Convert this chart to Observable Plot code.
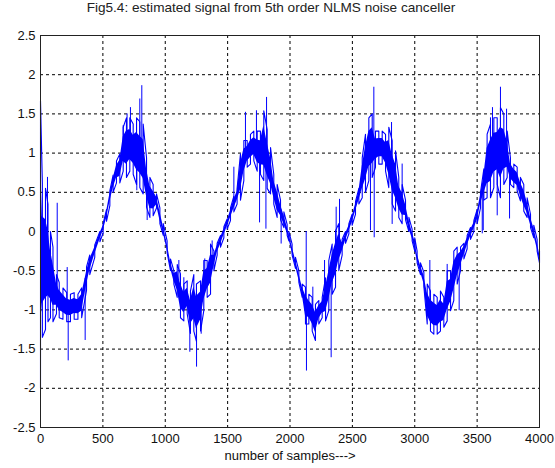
<!DOCTYPE html>
<html>
<head>
<meta charset="utf-8">
<script src="https://cdn.jsdelivr.net/npm/d3@7"></script>
<script src="https://cdn.jsdelivr.net/npm/@observablehq/plot@0.6"></script>
<style>
  body { margin: 0; background: #fff; }
  #title { width: 555px; box-sizing: border-box; padding: 0 13px 0 0; height: 28px; line-height: 34px;
           text-align: center; font: 13.6px "Liberation Sans", Arial, sans-serif; color: #222; }
  svg { display: block; }
</style>
</head>
<body>
<div id="title">Fig5.4: estimated signal from 5th order NLMS noise canceller</div>
<div id="chart"></div>
<script>
// Sample index positions at which the dense band of the signal was read
const samples = [
  0,15,40,60,80,100,128,150,180,210,240,270,300,330,369,395,435,476,502,529,556,582,609,636,663,689,716,743,770,796,823,850,877,903,930,957,984,
  1015,1042,1069,1096,1122,1149,1176,1202,1229,1250,1283,1309,1336,1363,1390,1416,1443,1470,1496,1523,1550,1576,1603,1630,1657,1683,1710,1737,1763,1790,1817,1844,1870,1897,1924,1951,1977,
  1991,2017,2044,2071,2098,2124,2151,2178,2204,2231,2258,2285,2311,2338,2365,2391,2418,2445,2472,2498,2525,2552,2579,2605,2632,2659,2685,2712,2739,2766,2792,2819,2846,2872,2899,2926,2953,2979,
  3000,3019,3046,3073,3100,3126,3153,3180,3206,3233,3260,3287,3313,3340,3367,3394,3420,3447,3474,3500,3527,3554,3580,3607,3634,3661,3687,3714,3741,3767,3794,3821,3847,3874,3901,3928,3954,3981,4000
];
// lower edge of the dense band
const lowVals = [
  -2.0,-1.35,-1.25,-1.15,-1.10,-1.15,-1.05,-1.10,-1.12,-1.15,-1.15,-1.12,-1.12,-1.10,-0.75,-0.55,-0.33,-0.13,-0.02,0.13,0.33,0.50,0.62,0.62,0.77,0.69,0.77,0.73,0.60,0.56,0.48,0.31,0.18,0.20,0.30,0.10,-0.05,
  -0.27,-0.50,-0.67,-0.84,-1.10,-1.14,-1.05,-1.30,-1.27,-1.40,-1.27,-1.01,-0.84,-0.80,-0.50,-0.30,-0.20,-0.08,0.03,0.14,0.25,0.35,0.40,0.65,0.82,0.86,0.90,0.77,0.73,0.65,0.55,0.48,0.35,0.18,0.15,0.05,-0.05,
  -0.12,-0.30,-0.47,-0.65,-0.84,-1.18,-1.18,-1.27,-1.39,-1.18,-1.10,-1.14,-1.01,-0.80,-0.71,-0.50,-0.30,-0.15,-0.03,0.08,0.22,0.35,0.43,0.50,0.65,0.69,0.82,0.86,0.86,0.77,0.56,0.35,0.26,0.18,0.10,0.15,0.0,-0.12,
  -0.25,-0.40,-0.55,-0.70,-1.18,-1.27,-1.31,-1.31,-1.27,-1.22,-1.14,-1.01,-0.88,-0.67,-0.50,-0.35,-0.22,-0.10,0.0,0.10,0.30,0.40,0.43,0.43,0.56,0.60,0.43,0.60,0.69,0.60,0.56,0.52,0.39,0.26,0.18,0.05,-0.08,-0.25,-0.40
];
// upper edge of the dense band
const highVals = [
  1.67,0.62,0.55,0.35,0.0,-0.2,-0.55,-0.65,-0.72,-0.78,-0.80,-0.78,-0.80,-0.72,-0.45,-0.30,-0.17,0.0,0.10,0.28,0.52,0.72,0.90,0.99,1.33,1.45,1.45,1.37,1.45,1.40,1.37,0.94,0.69,0.60,0.48,0.30,0.10,
  -0.12,-0.35,-0.50,-0.42,-0.54,-0.67,-0.63,-0.76,-0.55,-0.67,-0.63,-0.37,-0.37,-0.16,-0.25,-0.15,-0.05,0.06,0.16,0.30,0.45,0.55,0.99,1.16,1.16,1.24,1.28,1.28,1.28,1.54,1.30,1.07,0.73,0.60,0.40,0.25,0.09,
  0.0,-0.16,-0.33,-0.50,-0.67,-0.71,-0.80,-0.84,-0.93,-0.88,-0.84,-0.59,-0.37,-0.16,0.01,0.10,-0.10,0.0,0.10,0.22,0.38,0.55,0.94,1.24,1.45,1.50,1.28,1.28,1.28,1.24,1.33,1.16,1.03,0.69,0.60,0.40,0.18,0.03,
  -0.08,-0.25,-0.40,-0.52,-0.67,-0.76,-0.80,-0.84,-0.76,-0.84,-0.50,-0.50,-0.25,-0.20,-0.20,-0.15,-0.05,0.05,0.14,0.28,0.50,0.80,1.24,1.37,1.45,1.45,1.58,1.50,1.28,0.94,0.86,0.82,0.69,0.60,0.43,0.22,0.08,-0.10,-0.25
];
// isolated spikes sticking out of the band
const spikeSamples = [
  0,0,56,134,214,222,358,663,694,721,772,796,812,855,
  1109,1149,1197,1251,1288,1317,1376,1550,1643,1731,1756,1807,1812,1929,
  2130,2132,2183,2277,2330,2370,2397,2645,2672,2675,2814,2819,2899,
  3121,3260,3356,3541,3549,3607,3623,3661,3687,3736,3760
];
const spikeVals = [
  2.45,-2.4,0.69,0.36,-0.46,-1.65,-1.39,1.35,1.50,1.58,0.52,1.69,1.86,0.14,
  -0.37,-0.59,-1.54,-1.73,-1.31,-0.35,-0.12,0.82,1.52,1.54,0.11,0.03,1.71,-0.16,
  0.0,-1.78,-0.71,-0.37,-1.61,0.31,0.41,0.01,1.84,-0.08,1.39,0.09,0.86,
  -0.37,-0.42,-1.01,-0.03,0.01,1.45,1.58,0.2,1.84,1.56,0.16
];
const xTicks = [0,500,1000,1500,2000,2500,3000,3500,4000];
const yTicks = [-2.5,-2,-1.5,-1,-0.5,0,0.5,1,1.5,2,2.5];

const band = samples.map((s, i) => ({s, lo: lowVals[i], hi: highVals[i],
  coreLo: lowVals[i] + 0.22 * (highVals[i] - lowVals[i]),
  coreHi: highVals[i] - 0.22 * (highVals[i] - lowVals[i])}));
// zig-zag trace between the band edges (noisy texture)
const zig = band.flatMap((b, i) => i % 2 ? [{s: b.s, y: b.hi}, {s: b.s, y: b.lo}] : [{s: b.s, y: b.lo}, {s: b.s, y: b.hi}]);
const spikes = spikeSamples.map((s, i) => {
  let best = band[0];
  for (const b of band) if (Math.abs(b.s - s) < Math.abs(best.s - s)) best = b;
  return {s, v: spikeVals[i], base: (best.lo + best.hi) / 2};
});

const blue = "#0000ff";
const chart = Plot.plot({
  width: 555,
  height: 440,
  marginLeft: 40,
  marginRight: 16,
  marginTop: 7,
  marginBottom: 41,
  style: {fontFamily: "'Liberation Sans', Arial, sans-serif", fontSize: "13px", color: "#111", background: "#fff"},
  x: {domain: [0, 4000]},
  y: {domain: [-2.5, 2.5]},
  marks: [
    Plot.gridX(xTicks, {stroke: "#000", strokeOpacity: 1, strokeDasharray: "3,3"}),
    Plot.gridY(yTicks, {stroke: "#000", strokeOpacity: 1, strokeDasharray: "3,3"}),
    Plot.areaY(band, {x: "s", y1: "coreLo", y2: "coreHi", fill: blue, curve: "linear"}),
    Plot.line(zig, {x: "s", y: "y", stroke: blue, strokeWidth: 1.1}),
    Plot.ruleX(spikes, {x: "s", y1: "base", y2: "v", stroke: blue, strokeWidth: 1}),
    Plot.frame({stroke: "#222", strokeWidth: 1}),
    Plot.axisX(xTicks, {tickSize: 0, tickPadding: 6, tickFormat: d => String(d),
      label: "number of samples--->", labelAnchor: "center", labelArrow: "none", labelOffset: 32, fontSize: 13}),
    Plot.axisY(yTicks, {tickSize: 0, tickPadding: 5, tickFormat: d => String(d), label: null, fontSize: 13})
  ]
});
document.getElementById("chart").appendChild(chart);
</script>
</body>
</html>
